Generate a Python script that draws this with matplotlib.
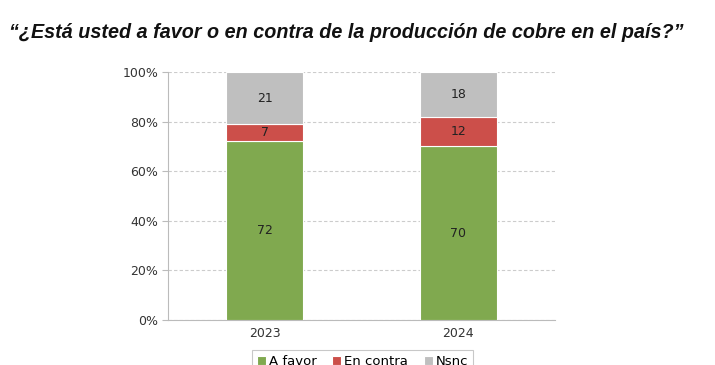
import matplotlib
matplotlib.use('Agg')
import matplotlib.pyplot as plt
from matplotlib.ticker import PercentFormatter

# datos
years = ['2023', '2024']
a_favor = [72, 70]
en_contra = [7, 12]
nsnc = [21, 18]

COLORS = {'A favor': '#80A94F', 'En contra': '#CC4F4A', 'Nsnc': '#BFBFBF'}

fig = plt.figure(figsize=(7.15, 3.65), dpi=100)
ax = fig.add_axes([168 / 715, 1 - 320 / 365, (555 - 168) / 715, (320 - 72) / 365])

x = range(len(years))
bottom = [0, 0]
for name, vals in [('A favor', a_favor), ('En contra', en_contra), ('Nsnc', nsnc)]:
    bars = ax.bar(x, vals, 0.4, bottom=bottom, color=COLORS[name], label=name,
                  edgecolor='white', linewidth=0.8, zorder=3)
    for b, v, y0 in zip(bars, vals, bottom):
        ax.text(b.get_x() + b.get_width() / 2, y0 + v / 2, f'{v}',
                ha='center', va='center', fontsize=9, color='#222222', zorder=4)
    bottom = [b0 + v for b0, v in zip(bottom, vals)]

ax.set_xlim(-0.5, 1.5)
ax.set_ylim(0, 100)
ax.set_yticks(range(0, 101, 20))
ax.yaxis.set_major_formatter(PercentFormatter(decimals=0))
ax.set_xticks(list(x))
ax.set_xticklabels(years)
ax.tick_params(axis='both', labelsize=9, colors='#333333')
ax.tick_params(axis='y', length=4, color='#BBBBBB', pad=3)
ax.tick_params(axis='x', length=0, pad=5)
ax.grid(axis='y', linestyle=(0, (3, 2)), color='#CCCCCC', linewidth=0.8, zorder=0)
for side in ['top', 'right']:
    ax.spines[side].set_visible(False)
for side in ['left', 'bottom']:
    ax.spines[side].set_color('#BBBBBB')

fig.text(0.012, 1 - 33 / 365, '“¿Está usted a favor o en contra de la producción de cobre en el país?”',
         fontsize=14.2, fontweight='bold', fontstyle='italic', va='center', ha='left',
         family=['Liberation Sans', 'DejaVu Sans'], color='#111111')

leg = fig.legend(loc='upper center', bbox_to_anchor=(0.507, 0.06), ncol=3,
                 fontsize=9.5, frameon=True, fancybox=False, handlelength=0.7,
                 handleheight=0.7, handletextpad=0.2, columnspacing=1.2,
                 borderpad=0.4)
leg.get_frame().set_edgecolor('#BBBBBB')
leg.get_frame().set_linewidth(0.8)

plt.savefig('out.png', dpi=100)
plt.close()
